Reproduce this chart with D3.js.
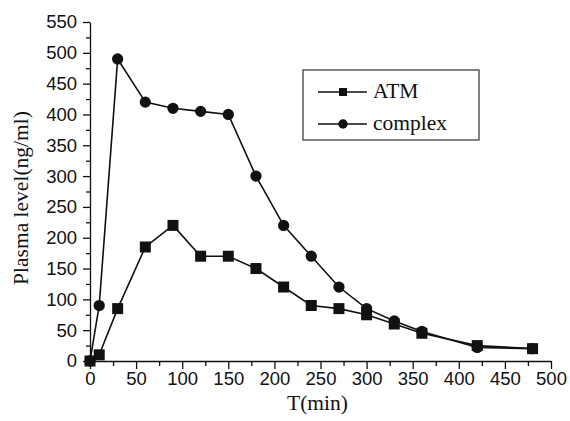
<!DOCTYPE html>
<html>
<head>
<meta charset="utf-8">
<script src="https://cdn.jsdelivr.net/npm/d3@7"></script>
<style>
  body { margin: 0; background: #fff; }
  .tick text { font-family: "Liberation Sans", Arial, sans-serif; font-size: 18.5px; fill: #111; }
  .title { font-family: "Liberation Serif", "Times New Roman", serif; font-size: 21.5px; fill: #111; }
</style>
</head>
<body>
<div id="chart"></div>
<script>
// sampling times (min)
var times = [0, 10, 30, 60, 90, 120, 150, 180, 210, 240, 270, 300, 330, 360, 420, 480];
var atm = [0, 10, 85, 185, 220, 170, 170, 150, 120, 90, 85, 75, 60, 45, 25, 20];
var complex = [0, 90, 490, 420, 410, 405, 400, 300, 220, 170, 120, 85, 65, 48, 22, 20];
var seriesNames = ["ATM", "complex"];
var xTicks = [0, 50, 100, 150, 200, 250, 300, 350, 400, 450, 500];
var yTicks = [0, 50, 100, 150, 200, 250, 300, 350, 400, 450, 500, 550];

var width = 570, height = 421;
var pad = { left: 90, right: 19, top: 22, bottom: 60 };

var svg = d3.select("#chart").append("svg")
  .attr("width", width)
  .attr("height", height);

var x = d3.scaleLinear().domain([0, 500]).range([pad.left, width - pad.right]);
var y = d3.scaleLinear().domain([0, 550]).range([height - pad.bottom, pad.top]);

// minor ticks first, then the major axis on top
var minorX = d3.range(25, 500, 50);
var minorY = d3.range(25, 550, 50);

svg.append("g")
  .attr("transform", "translate(0," + y(0) + ")")
  .call(d3.axisBottom(x).tickValues(minorX).tickSize(5).tickFormat(""))
  .call(function(g) { g.select(".domain").remove(); });

svg.append("g")
  .attr("transform", "translate(" + x(0) + ",0)")
  .call(d3.axisLeft(y).tickValues(minorY).tickSize(4).tickFormat(""))
  .call(function(g) { g.select(".domain").remove(); });

var xAxis = svg.append("g")
  .attr("transform", "translate(0," + y(0) + ")")
  .call(d3.axisBottom(x).tickValues(xTicks).tickSize(8).tickSizeOuter(0).tickPadding(3));

var yAxis = svg.append("g")
  .attr("transform", "translate(" + x(0) + ",0)")
  .call(d3.axisLeft(y).tickValues(yTicks).tickSize(7).tickSizeOuter(0).tickPadding(6));

svg.selectAll(".domain, .tick line").attr("stroke", "#111").attr("stroke-width", 1.3);

// axis titles
svg.append("text")
  .attr("class", "title")
  .attr("x", (x(0) + x(500)) / 2 - 3)
  .attr("y", 410)
  .attr("text-anchor", "middle")
  .text("T(min)");

svg.append("text")
  .attr("class", "title")
  .attr("transform", "translate(28," + 198 + ") rotate(-90)")
  .attr("text-anchor", "middle")
  .text("Plasma level(ng/ml)");

// series
var line = d3.line()
  .x(function(d) { return x(d[0]); })
  .y(function(d) { return y(d[1]); });

function drawSeries(values, shape) {
  var pts = times.map(function(t, i) { return [t, values[i]]; });
  svg.append("path")
    .datum(pts)
    .attr("fill", "none")
    .attr("stroke", "#111")
    .attr("stroke-width", 1.6)
    .attr("d", line);
  svg.append("g").selectAll("path")
    .data(pts)
    .enter().append("path")
    .attr("transform", function(d) { return "translate(" + x(d[0]) + "," + y(d[1]) + ")"; })
    .attr("d", d3.symbol().type(shape).size(shape === d3.symbolSquare ? 121 : 100)())
    .attr("fill", "#111");
}

drawSeries(atm, d3.symbolSquare);
drawSeries(complex, d3.symbolCircle);

// legend
var legend = svg.append("g").attr("transform", "translate(303,70)");
legend.append("rect")
  .attr("width", 176)
  .attr("height", 70)
  .attr("fill", "#fff")
  .attr("stroke", "#333")
  .attr("stroke-width", 1.2);

[d3.symbolSquare, d3.symbolCircle].forEach(function(shape, i) {
  var row = legend.append("g").attr("transform", "translate(0," + (22 + i * 32) + ")");
  row.append("line")
    .attr("x1", 15).attr("x2", 64)
    .attr("stroke", "#111").attr("stroke-width", 1.6);
  row.append("path")
    .attr("transform", "translate(40,0)")
    .attr("d", d3.symbol().type(shape).size(shape === d3.symbolSquare ? 64 : 70)())
    .attr("fill", "#111");
  row.append("text")
    .attr("class", "title")
    .attr("x", 70)
    .attr("y", 6)
    .text(seriesNames[i]);
});
</script>
</body>
</html>
